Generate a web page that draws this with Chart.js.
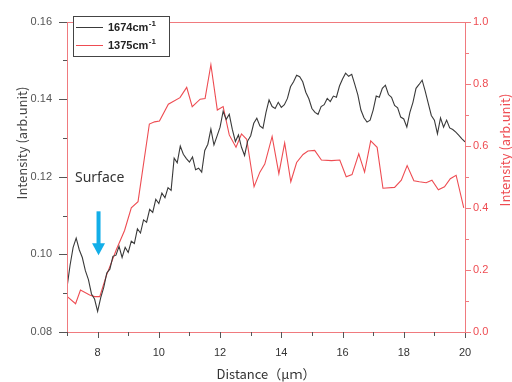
<!DOCTYPE html>
<html>
<head>
<meta charset="utf-8">
<script src="https://cdn.jsdelivr.net/npm/chart.js@4.4.1/dist/chart.umd.min.js"></script>
<style>
  html, body { margin: 0; padding: 0; background: #fff; }
  #wrap { width: 512px; height: 382px; }
</style>
</head>
<body>
<div id="wrap"><canvas id="ramanChart" width="512" height="382"></canvas></div>
<script>
// 1674 cm-1 profile (left axis)
const distance = [
    7.0, 7.1, 7.2, 7.3, 7.4, 7.5, 7.6, 7.7, 7.8, 7.9,
    8.0, 8.1, 8.2, 8.3, 8.4, 8.5, 8.6, 8.7, 8.8, 8.9,
    9.0, 9.1, 9.2, 9.3, 9.4, 9.5, 9.6, 9.7, 9.8, 9.9,
    10.0, 10.1, 10.2, 10.3, 10.4, 10.5, 10.6, 10.7, 10.8, 10.9,
    11.0, 11.1, 11.2, 11.3, 11.4, 11.5, 11.6, 11.7, 11.8, 11.9,
    12.0, 12.1, 12.2, 12.3, 12.4, 12.5, 12.6, 12.7, 12.8, 12.9,
    13.0, 13.1, 13.2, 13.3, 13.4, 13.5, 13.6, 13.7, 13.8, 13.9,
    14.0, 14.1, 14.2, 14.3, 14.4, 14.5, 14.6, 14.7, 14.8, 14.9,
    15.0, 15.1, 15.2, 15.3, 15.4, 15.5, 15.6, 15.7, 15.8, 15.9,
    16.0, 16.1, 16.2, 16.3, 16.4, 16.5, 16.6, 16.7, 16.8, 16.9,
    17.0, 17.1, 17.2, 17.3, 17.4, 17.5, 17.6, 17.7, 17.8, 17.9,
    18.0, 18.1, 18.2, 18.3, 18.4, 18.5, 18.6, 18.7, 18.8, 18.9,
    19.0, 19.1, 19.2, 19.3, 19.4, 19.5, 19.6, 19.7, 19.8, 19.9,
    20.0
];
const int1674 = [
    0.0915, 0.0972, 0.1018, 0.1042, 0.1012, 0.0992, 0.0958, 0.0935, 0.0898, 0.0885,
    0.0853, 0.0888, 0.0915, 0.0952, 0.0962, 0.0995, 0.0998, 0.1021, 0.0992, 0.1018,
    0.1005, 0.1034, 0.1028, 0.1066, 0.1055, 0.1089, 0.1083, 0.1116, 0.1108, 0.1142,
    0.1131, 0.1158, 0.1146, 0.1172, 0.1165, 0.1248, 0.1236, 0.1279, 0.1258, 0.1247,
    0.1238, 0.1251, 0.1218, 0.1222, 0.1212, 0.1268, 0.1284, 0.1323, 0.1282, 0.1305,
    0.1328, 0.1369, 0.1348, 0.1361, 0.1322, 0.1291, 0.1308, 0.1276, 0.1255, 0.1292,
    0.1306, 0.1338, 0.1351, 0.1331, 0.1325, 0.1366, 0.1398, 0.1381, 0.1376, 0.1392,
    0.1379, 0.1386, 0.1402, 0.1432, 0.1445, 0.1462, 0.1458, 0.1445, 0.1418, 0.1401,
    0.1376, 0.1366, 0.1361, 0.1381, 0.1386, 0.1402, 0.1394, 0.1408, 0.1405, 0.1434,
    0.1452, 0.1467, 0.1459, 0.1464, 0.1438, 0.1411, 0.1372, 0.1352, 0.1341, 0.1346,
    0.1372, 0.1408, 0.1405, 0.1428, 0.1436, 0.1412, 0.1405, 0.1384, 0.1378, 0.1354,
    0.1349, 0.1328, 0.1366, 0.1392, 0.1428, 0.1438, 0.1449, 0.1421, 0.1389, 0.1358,
    0.1346, 0.1311, 0.1352, 0.1328, 0.1346, 0.1326, 0.1322, 0.1315, 0.1307, 0.1298,
    0.1290
];

// 1375 cm-1 profile (right axis)
const redDistance = [
    7.02, 7.28, 7.44, 7.74, 7.90, 8.07, 8.28, 8.61, 8.88, 9.10,
    9.32, 9.69, 9.86, 10.02, 10.31, 10.69, 10.91, 11.09, 11.35, 11.51,
    11.70, 11.91, 12.10, 12.30, 12.52, 12.70, 12.87, 13.11, 13.30, 13.46,
    13.70, 13.92, 14.11, 14.31, 14.50, 14.71, 14.87, 15.09, 15.31, 15.64,
    15.91, 16.12, 16.31, 16.53, 16.72, 16.92, 17.13, 17.32, 17.70, 17.92,
    18.11, 18.33, 18.51, 18.73, 18.92, 19.13, 19.33, 19.52, 19.71, 19.96
];
const int1375 = [
    0.113, 0.091, 0.135, 0.119, 0.114, 0.114, 0.180, 0.265, 0.327, 0.400,
    0.420, 0.670, 0.677, 0.680, 0.734, 0.755, 0.788, 0.726, 0.750, 0.752,
    0.861, 0.715, 0.726, 0.635, 0.595, 0.638, 0.621, 0.468, 0.515, 0.541,
    0.630, 0.510, 0.609, 0.484, 0.546, 0.572, 0.583, 0.585, 0.554, 0.552,
    0.554, 0.500, 0.507, 0.574, 0.515, 0.616, 0.595, 0.463, 0.466, 0.489,
    0.536, 0.487, 0.484, 0.481, 0.489, 0.458, 0.468, 0.494, 0.505, 0.400
];

const seriesNames = ['1674cm', '1375cm'];
const seriesSup = '-1';
const xTicks = [8, 10, 12, 14, 16, 18, 20];
const leftTicks = [0.08, 0.10, 0.12, 0.14, 0.16];
const rightTicks = [0.0, 0.2, 0.4, 0.6, 0.8, 1.0];

const blackColor = '#3a3a3a';
const redColor = '#ee4c52';
const frameColor = '#f07a7e';
const tickText = '#555';

// annotation: "Surface" + arrow pointing at x = 8
const surfaceLabel = 'Surface';
const surfaceX = 8.03;
const arrowTop = 0.1111;
const arrowTip = 0.0998;

function toPoints(xs, ys) {
    return xs.map((x, i) => ({ x: x, y: ys[i] }));
}

const decor = {
    id: 'decor',
    afterDraw(chart) {
        const { ctx, chartArea: a, scales } = chart;
        const x = scales.x, y = scales.y, y1 = scales.y1;
        ctx.save();

        // frame
        ctx.strokeStyle = frameColor;
        ctx.lineWidth = 1;
        ctx.strokeRect(Math.round(a.left) + 0.5, Math.round(a.top) + 0.5,
            Math.round(a.right - a.left), Math.round(a.bottom - a.top));

        // tick marks (major and minor)
        function vTick(px, len) {
            ctx.beginPath();
            ctx.moveTo(Math.round(px) + 0.5, a.bottom);
            ctx.lineTo(Math.round(px) + 0.5, a.bottom + len);
            ctx.stroke();
        }
        ctx.strokeStyle = '#555';
        for (let v = 7; v <= 20; v++) {
            vTick(x.getPixelForValue(v), v % 2 === 0 ? 6 : 4);
        }
        for (let k = 8; k <= 16; k++) {
            const py = Math.round(y.getPixelForValue(k / 100)) + 0.5;
            const len = k % 2 === 0 ? 8 : 4;
            ctx.beginPath();
            ctx.moveTo(a.left - len, py);
            ctx.lineTo(a.left, py);
            ctx.stroke();
        }
        ctx.strokeStyle = frameColor;
        for (let k = 0; k <= 10; k++) {
            const py = Math.round(y1.getPixelForValue(k / 10)) + 0.5;
            const len = k % 2 === 0 ? 6 : 4;
            ctx.beginPath();
            ctx.moveTo(a.right, py);
            ctx.lineTo(a.right + len, py);
            ctx.stroke();
        }

        // axis titles (both read bottom to top)
        ctx.font = '13px "Noto Sans CJK JP", "Noto Sans", sans-serif';
        ctx.textAlign = 'center';
        ctx.textBaseline = 'middle';
        ctx.fillStyle = '#444';
        ctx.save();
        ctx.translate(22, 143);
        ctx.rotate(-Math.PI / 2);
        ctx.fillText('Intensity (arb.unit)', 0, 0);
        ctx.restore();
        ctx.fillStyle = redColor;
        ctx.save();
        ctx.translate(505, 150);
        ctx.rotate(-Math.PI / 2);
        ctx.fillText('Intensity (arb.unit)', 0, 0);
        ctx.restore();

        // legend box
        const lx = 73, ly = 16, lw = 96, lh = 40;
        ctx.fillStyle = '#fff';
        ctx.fillRect(lx, ly, lw, lh);
        ctx.strokeStyle = '#444';
        ctx.lineWidth = 1;
        ctx.strokeRect(lx + 0.5, ly + 0.5, lw, lh);
        const colors = [blackColor, redColor];
        seriesNames.forEach((name, i) => {
            const cy = ly + 11 + i * 18;
            ctx.strokeStyle = colors[i];
            ctx.beginPath();
            ctx.moveTo(lx + 3, cy + 0.5);
            ctx.lineTo(lx + 30, cy + 0.5);
            ctx.stroke();
            ctx.fillStyle = '#222';
            ctx.textAlign = 'left';
            ctx.textBaseline = 'middle';
            ctx.font = 'bold 11px "Liberation Sans", Arial, sans-serif';
            ctx.fillText(name, lx + 35, cy + 1);
            const w = ctx.measureText(name).width;
            ctx.font = 'bold 8px "Liberation Sans", Arial, sans-serif';
            ctx.fillText(seriesSup, lx + 35 + w + 0.5, cy - 3);
        });

        // Surface annotation
        const ax = x.getPixelForValue(surfaceX);
        const aTop = y.getPixelForValue(arrowTop);
        const aTip = y.getPixelForValue(arrowTip);
        ctx.fillStyle = '#333';
        ctx.font = '14px "Noto Sans", "Liberation Sans", sans-serif';
        ctx.textAlign = 'left';
        ctx.fillText(surfaceLabel, 75, 178);
        ctx.fillStyle = '#12aee8';
        ctx.fillRect(ax - 2, aTop, 4, (aTip - aTop) - 11);
        ctx.beginPath();
        ctx.moveTo(ax - 6.5, aTip - 12);
        ctx.lineTo(ax + 6.5, aTip - 12);
        ctx.lineTo(ax, aTip);
        ctx.closePath();
        ctx.fill();

        ctx.restore();
    }
};

const tickFont = { family: '"Liberation Sans", Arial, sans-serif', size: 11 };

const ctxEl = document.getElementById('ramanChart').getContext('2d');
new Chart(ctxEl, {
    type: 'line',
    data: {
        datasets: [
            {
                label: seriesNames[0],
                data: toPoints(distance, int1674),
                borderColor: blackColor,
                borderWidth: 1.1,
                pointRadius: 0,
                tension: 0,
                yAxisID: 'y',
            },
            {
                label: seriesNames[1],
                data: toPoints(redDistance, int1375),
                borderColor: redColor,
                borderWidth: 1.1,
                pointRadius: 0,
                tension: 0,
                yAxisID: 'y1',
            }
        ]
    },
    options: {
        responsive: false,
        animation: false,
        layout: { padding: { top: 10, left: 0, right: 0, bottom: 0 } },
        plugins: {
            legend: { display: false },
            tooltip: { enabled: false },
        },
        scales: {
            x: {
                type: 'linear',
                min: 7,
                max: 20,
                afterFit: s => { s.height = 50; },
                afterBuildTicks: s => { s.ticks = xTicks.map(v => ({ value: v })); },
                grid: { display: false, drawTicks: false },
                border: { display: false },
                ticks: { color: '#333', font: tickFont, padding: 14, maxRotation: 0 },
                title: {
                    display: true,
                    text: 'Distance（μｍ）',
                    color: '#333',
                    font: { family: '"Noto Sans CJK JP", sans-serif', size: 13 },
                    padding: { top: 0, bottom: 0 },
                },
            },
            y: {
                position: 'left',
                min: 0.08,
                max: 0.16,
                afterFit: s => { s.width = 67; },
                afterBuildTicks: s => { s.ticks = leftTicks.map(v => ({ value: v })); },
                grid: { display: false, drawTicks: false },
                border: { display: false },
                ticks: { color: tickText, font: tickFont, padding: 15, callback: v => v.toFixed(2) },
            },
            y1: {
                position: 'right',
                min: 0,
                max: 1,
                afterFit: s => { s.width = 47; },
                afterBuildTicks: s => { s.ticks = rightTicks.map(v => ({ value: v })); },
                grid: { display: false, drawTicks: false },
                border: { display: false },
                ticks: { color: redColor, font: tickFont, padding: 8, callback: v => v.toFixed(1) },
            },
        },
    },
    plugins: [decor],
});
</script>
</body>
</html>
